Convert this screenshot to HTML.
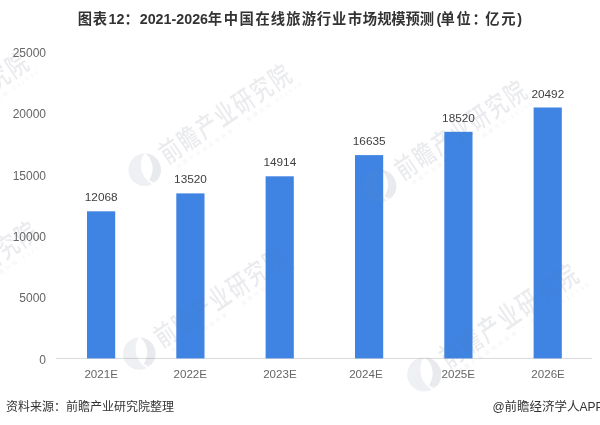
<!DOCTYPE html>
<html lang="zh-CN">
<head>
<meta charset="utf-8">
<title>图表12：2021-2026年中国在线旅游行业市场规模预测</title>
<style>
html,body{margin:0;padding:0;background:#fff;}
body{width:600px;height:425px;overflow:hidden;position:relative;font-family:"Liberation Sans","Noto Sans CJK SC",sans-serif;}
svg{position:absolute;left:0;top:0;display:block;font-family:"Liberation Sans","Noto Sans CJK SC",sans-serif;}
.title{font-weight:700;font-size:14.3px;fill:#333;}
.title .l{font-size:14.3px;}
.yl{font-size:12px;fill:#666;text-anchor:end;}
.xl{font-size:11.6px;fill:#666;text-anchor:middle;}
.vl{font-size:11.8px;fill:#404040;text-anchor:middle;}
.ft{font-size:12px;fill:#333;}
.wm{font-family:"Noto Sans CJK SC",sans-serif;font-weight:500;font-size:27px;fill:#6a7082;letter-spacing:2.7px;}
.wms{font-family:"Noto Sans CJK SC",sans-serif;font-weight:400;font-size:5px;fill:#9aa0ae;letter-spacing:2.7px;}
</style>
</head>
<body>
<svg width="600" height="425" viewBox="0 0 600 425">
<defs><mask id="lm" maskUnits="userSpaceOnUse" x="-20" y="-20" width="40" height="40"><rect x="-20" y="-20" width="40" height="40" fill="#fff"/><path fill="#000" d="M0.3,-17 C-5.5,-10 -5.5,4 3.6,11.2 C9.5,4 10.5,-8 0.3,-17 Z"/><path d="M3.2,10 L10.5,16" stroke="#000" stroke-width="1.7" fill="none"/></mask></defs>
<rect x="0" y="0" width="600" height="425" fill="#ffffff"/>
<text class="title" y="23.5"><tspan x="77.7 92.7">图表</tspan><tspan class="l" x="108.5">12</tspan><tspan x="124.4">：</tspan><tspan class="l" x="139.7">2021-2026</tspan><tspan x="207.85 223.85 239.60 255.60 270.85 286.35 301.85 316.85 332.10 347.85 362.85 377.35 391.35 405.60 419.85">年中国在线旅游行业市场规模预测</tspan><tspan class="l" x="436.4">(</tspan><tspan x="440.50 456.60 472.60 485.35 501.35">单位：亿元</tspan><tspan class="l" x="517.2">)</tspan></text>
<text class="yl" x="46" y="363.8">0</text>
<text class="yl" x="46" y="302.4">5000</text>
<text class="yl" x="46" y="241.0">10000</text>
<text class="yl" x="46" y="179.6">15000</text>
<text class="yl" x="46" y="118.2">20000</text>
<text class="yl" x="46" y="56.8">25000</text>
<line x1="56.0" y1="358.4" x2="592.0" y2="358.4" stroke="#d9d9d9" stroke-width="1"/>
<rect x="87.0" y="211.3" width="28.2" height="147.1" fill="#3f84e2"/>
<text class="vl" x="101.2" y="201.3">12068</text>
<text class="xl" x="101.2" y="377.7">2021E</text>
<rect x="176.3" y="193.4" width="28.2" height="165.0" fill="#3f84e2"/>
<text class="vl" x="190.5" y="183.4">13520</text>
<text class="xl" x="190.3" y="377.7">2022E</text>
<rect x="265.6" y="176.3" width="28.2" height="182.1" fill="#3f84e2"/>
<text class="vl" x="279.8" y="166.3">14914</text>
<text class="xl" x="279.9" y="377.7">2023E</text>
<rect x="355.0" y="155.1" width="28.2" height="203.3" fill="#3f84e2"/>
<text class="vl" x="369.2" y="145.1">16635</text>
<text class="xl" x="365.9" y="377.7">2024E</text>
<rect x="444.3" y="131.8" width="28.2" height="226.6" fill="#3f84e2"/>
<text class="vl" x="458.5" y="121.8">18520</text>
<text class="xl" x="458.3" y="377.7">2025E</text>
<rect x="533.6" y="107.5" width="28.2" height="250.9" fill="#3f84e2"/>
<text class="vl" x="547.8" y="97.5">20492</text>
<text class="xl" x="548.1" y="377.7">2026E</text>
<mask id="bm" maskUnits="userSpaceOnUse" x="0" y="0" width="600" height="425"><rect x="0" y="0" width="600" height="425" fill="#fff"/><rect x="87.0" y="211.3" width="28.2" height="147.1" fill="#6a6a6a"/><rect x="176.3" y="193.4" width="28.2" height="165.0" fill="#6a6a6a"/><rect x="265.6" y="176.3" width="28.2" height="182.1" fill="#6a6a6a"/><rect x="355.0" y="155.1" width="28.2" height="203.3" fill="#6a6a6a"/><rect x="444.3" y="131.8" width="28.2" height="226.6" fill="#6a6a6a"/><rect x="533.6" y="107.5" width="28.2" height="250.9" fill="#6a6a6a"/></mask>
<g opacity="0.14" mask="url(#bm)">
<g transform="translate(144.6,169.7) scale(1)">
<g mask="url(#lm)"><circle cx="0" cy="0" r="16.2" fill="#8c92a4"/><path fill="#5f6780" d="M0.3,-16.2 A16.2,16.2 0 0 1 12.2,10.7 L3.6,11.2 C9.5,4 10.5,-8 0.3,-16.2 Z"/></g>
<g transform="rotate(-34)">
<text class="wm" transform="translate(22,8.5) scale(0.74,1)" x="0" y="0">前瞻产业研究院</text>
<text class="wms" x="28" y="18">中国产业咨询领导者 · 股票代码 832599</text>
</g></g>
<g transform="translate(380,186) scale(1)">
<g mask="url(#lm)"><circle cx="0" cy="0" r="16.2" fill="#8c92a4"/><path fill="#5f6780" d="M0.3,-16.2 A16.2,16.2 0 0 1 12.2,10.7 L3.6,11.2 C9.5,4 10.5,-8 0.3,-16.2 Z"/></g>
<g transform="rotate(-34)">
<text class="wm" transform="translate(22,8.5) scale(0.74,1)" x="0" y="0">前瞻产业研究院</text>
<text class="wms" x="28" y="18">中国产业咨询领导者 · 股票代码 832599</text>
</g></g>
<g transform="translate(139.2,353.6) scale(1)">
<g mask="url(#lm)"><circle cx="0" cy="0" r="16.2" fill="#8c92a4"/><path fill="#5f6780" d="M0.3,-16.2 A16.2,16.2 0 0 1 12.2,10.7 L3.6,11.2 C9.5,4 10.5,-8 0.3,-16.2 Z"/></g>
<g transform="rotate(-34)">
<text class="wm" transform="translate(22,8.5) scale(0.74,1)" x="0" y="0">前瞻产业研究院</text>
<text class="wms" x="28" y="18">中国产业咨询领导者 · 股票代码 832599</text>
</g></g>
<g transform="translate(424.2,374.5) scale(1.05)">
<g mask="url(#lm)"><circle cx="0" cy="0" r="16.2" fill="#8c92a4"/><path fill="#5f6780" d="M0.3,-16.2 A16.2,16.2 0 0 1 12.2,10.7 L3.6,11.2 C9.5,4 10.5,-8 0.3,-16.2 Z"/></g>
<g transform="rotate(-34)">
<text class="wm" transform="translate(22,8.5) scale(0.74,1)" x="0" y="0">前瞻产业研究院</text>
<text class="wms" x="28" y="18">中国产业咨询领导者 · 股票代码 832599</text>
</g></g>
<g transform="translate(-118.4,157.7) scale(1)">
<g mask="url(#lm)"><circle cx="0" cy="0" r="16.2" fill="#8c92a4"/><path fill="#5f6780" d="M0.3,-16.2 A16.2,16.2 0 0 1 12.2,10.7 L3.6,11.2 C9.5,4 10.5,-8 0.3,-16.2 Z"/></g>
<g transform="rotate(-34)">
<text class="wm" transform="translate(22,8.5) scale(0.74,1)" x="0" y="0">前瞻产业研究院</text>
<text class="wms" x="28" y="18">中国产业咨询领导者 · 股票代码 832599</text>
</g></g>
<g transform="translate(-109,327) scale(1)">
<g mask="url(#lm)"><circle cx="0" cy="0" r="16.2" fill="#8c92a4"/><path fill="#5f6780" d="M0.3,-16.2 A16.2,16.2 0 0 1 12.2,10.7 L3.6,11.2 C9.5,4 10.5,-8 0.3,-16.2 Z"/></g>
<g transform="rotate(-34)">
<text class="wm" transform="translate(22,8.5) scale(0.74,1)" x="0" y="0">前瞻产业研究院</text>
<text class="wms" x="28" y="18">中国产业咨询领导者 · 股票代码 832599</text>
</g></g>
</g>
<text class="ft" x="6" y="410.9">资料来源：前瞻产业研究院整理</text>
<text class="ft" x="492.4" y="410.9">@<tspan font-size="12.5">前瞻经济学人</tspan>APP</text>
</svg>
</body>
</html>
